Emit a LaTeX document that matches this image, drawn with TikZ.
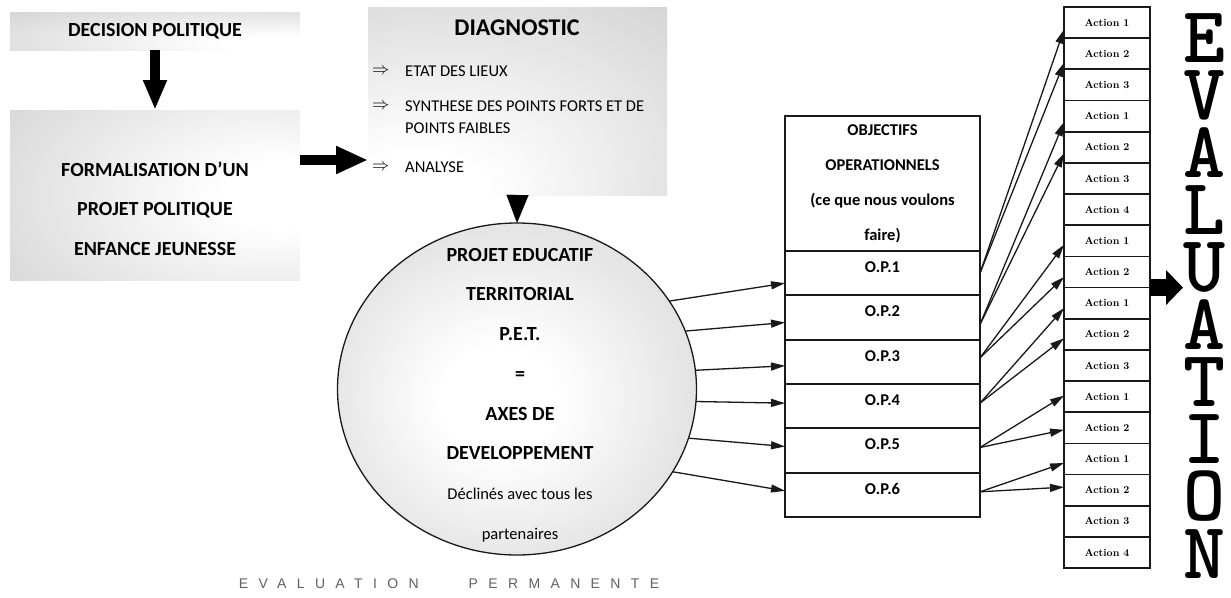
\documentclass[tikz,border=0pt]{standalone}
\usepackage{fontspec}
\newfontfamily\calfont{Carlito}
\newfontfamily\arialfont{Liberation Sans}
\usetikzlibrary{arrows.meta,shapes.geometric}
\colorlet{boxgray}{black!30}
\colorlet{circgray}{black!25}
\colorlet{inkc}{black!90}
\pgfdeclareradialshading{decshade}{\pgfpoint{25bp}{-20bp}}{color(0bp)=(white);color(10bp)=(white);color(80bp)=(boxgray)}
\pgfdeclareradialshading{formshade}{\pgfpoint{25bp}{0bp}}{color(0bp)=(white);color(10bp)=(white);color(78bp)=(boxgray)}
\pgfdeclareradialshading{diagshade}{\pgfpoint{-20bp}{-30bp}}{color(0bp)=(white);color(12bp)=(white);color(80bp)=(boxgray)}
\pgfdeclareradialshading{circshade}{\pgfpoint{-3bp}{-2bp}}{color(0bp)=(white);color(8bp)=(white);color(50bp)=(circgray)}
\tikzset{
  headfont/.style={font=\calfont\bfseries\fontsize{20}{39.5}\selectfont},
  itemfont/.style={font=\calfont\fontsize{16.5}{22}\selectfont},
  arrfont/.style={font=\fontsize{17}{17}\selectfont},
  shadebox/.style={inner sep=0pt, outer sep=0pt},
  bigdown/.style={line width=10pt, draw=black, -{Triangle[length=30pt,width=22pt]}},
  bigright/.style={line width=10pt, draw=black, -{Triangle[length=32pt,width=26pt]}},
  bigeval/.style={line width=17pt, draw=black, -{Triangle[length=17pt,width=34pt]}},
  tri/.style={line width=0.1pt, draw=black, -{Triangle[length=28pt,width=22pt]}},
  thinarrow/.style={line width=1.3pt, draw=inkc, -{Triangle[length=14pt,width=8pt]}},
  opbox/.style={draw=inkc, line width=1.8pt, minimum width=195pt, inner sep=0pt, outer sep=0pt,
    font=\calfont\bfseries\fontsize{16.5}{35}\selectfont, align=center},
  oprow/.style={opbox, minimum height=44.33pt, text depth=12pt},
  actbox/.style={draw=inkc, line width=1.7pt, minimum width=86pt, minimum height=31.17pt, inner sep=0pt, outer sep=0pt,
    font=\rmfamily\bfseries\fontsize{10.5}{12}\selectfont}
}
\begin{document}
\begin{tikzpicture}[x=1pt,y=-1pt]
\useasboundingbox[fill=white] (0,0) rectangle (1231,597);

% left boxes
\node[shadebox, shading=decshade, minimum width=290pt, minimum height=38pt, headfont] (dec) at (155,31) {DECISION POLITIQUE};
\node[shadebox, shading=formshade, minimum width=290pt, minimum height=170pt] (form) at (155,195) {};
\node[headfont, align=center, inner sep=0pt] (formtxt) at (155,208.5) {FORMALISATION D’UN\\PROJET POLITIQUE\\ENFANCE JEUNESSE};

% diagnostic
\node[shadebox, shading=diagshade, minimum width=299pt, minimum height=188pt] (diag) at (517.5,101) {};
\node[font=\calfont\bfseries\fontsize{24}{28}\selectfont, inner sep=0pt] (diagt) at (517,27.5) {DIAGNOSTIC};
\node[arrfont, anchor=west, inner sep=0pt] (ar1) at (372,71) {$\Rightarrow$};
\node[arrfont, anchor=west, inner sep=0pt] (ar2) at (372,106) {$\Rightarrow$};
\node[arrfont, anchor=west, inner sep=0pt] (ar3) at (372,167) {$\Rightarrow$};
\node[itemfont, anchor=west, inner sep=0pt] (it1) at (405,71) {ETAT DES LIEUX};
\node[itemfont, anchor=north west, align=left, inner sep=0pt] (it2) at (405,101) {SYNTHESE DES POINTS FORTS ET DE\\POINTS FAIBLES};
\node[itemfont, anchor=west, inner sep=0pt] (it3) at (405,167) {ANALYSE};

% big arrows
\draw[bigdown] (dec.south) -- (form.north);
\draw[bigright] (form.east |- 0,160) -- (diag.west |- 0,160);

% circle
\node[ellipse, draw=inkc, line width=1.3pt, shading=circshade, minimum width=359pt, minimum height=332pt, inner sep=0pt, outer sep=0pt] (pet) at (517,389) {};
\node[align=center, inner sep=0pt, font=\calfont\bfseries\fontsize{20}{39.7}\selectfont] (pettxt) at (520,395)
 {PROJET EDUCATIF\\TERRITORIAL\\P.E.T.\\=\\AXES DE\\DEVELOPPEMENT\\
  {\mdseries\fontsize{16.5}{39.7}\selectfont Déclinés avec tous les}\\
  {\mdseries\fontsize{16.5}{39.7}\selectfont partenaires}};
\draw[tri] (diag.south) -- (pet.north);

% OP table
\node[opbox, minimum height=135pt] (ophead) at (882.5,183.5) {OBJECTIFS\\OPERATIONNELS\\(ce que nous voulons\\faire)};
\foreach \i in {1,...,6}{
  \node[oprow] (op\i) at (882.5,{251+44.33*(\i-0.5)}) {O.P.\i};
}

% arrows circle -> OP
\draw[thinarrow] (pet.30) -- ([yshift=-10pt]op1.west);
\draw[thinarrow] (pet.19) -- ([yshift=-5pt]op2.west);
\draw[thinarrow] (pet.6) -- ([yshift=-4pt]op3.west);
\draw[thinarrow] (pet.-4) -- ([yshift=3pt]op4.west);
\draw[thinarrow] (pet.-16) -- ([yshift=4pt]op5.west);
\draw[thinarrow] (pet.-28) -- ([yshift=4pt]op6.west);

% actions
\foreach \i/\t in {1/1,2/2,3/3,4/1,5/2,6/3,7/4,8/1,9/2,10/1,11/2,12/3,13/1,14/2,15/1,16/2,17/3,18/4}{
  \node[actbox] (a\i) at (1107,{7+31.17*(\i-0.5)}) {Action \oldstylenums{\t}};
}

% arrows OP -> actions
\draw[thinarrow] (op1.east) -- ([yshift=-7pt]a1.west);
\draw[thinarrow] (op1.east) -- ([yshift=-9pt]a2.west);
\draw[thinarrow] ([yshift=-7pt]op2.east) -- ([yshift=-6pt]a4.west);
\draw[thinarrow] ([yshift=-7pt]op2.east) -- ([yshift=-6pt]a5.west);
\draw[thinarrow] ([yshift=4pt]op3.east) -- ([yshift=-4pt]a8.west);
\draw[thinarrow] ([yshift=4pt]op3.east) -- ([yshift=-5pt]a9.west);
\draw[thinarrow] ([yshift=3pt]op4.east) -- ([yshift=-5pt]a10.west);
\draw[thinarrow] ([yshift=3pt]op4.east) -- ([yshift=-4pt]a11.west);
\draw[thinarrow] ([yshift=3pt]op5.east) -- ([yshift=1pt]a13.west);
\draw[thinarrow] ([yshift=3pt]op5.east) -- ([yshift=-2pt]a14.west);
\draw[thinarrow] ([yshift=3pt]op6.east) -- ([yshift=-4pt]a15.west);
\draw[thinarrow] ([yshift=3pt]op6.east) -- ([yshift=3pt]a16.west);

% EVALUATION vertical
\node[align=center, inner sep=0pt, outer sep=0pt, font=\ttfamily\bfseries\fontsize{80}{57.3}\selectfont] (evalv) at (1204,296)
  {E\\V\\A\\L\\U\\A\\T\\I\\O\\N};
\draw[bigeval] (a10.north east) -- (evalv.west |- a10.north east);

% bottom caption
\node[inner sep=0pt, text=black!62, font=\arialfont\fontsize{14}{16}\selectfont] (evalp) at (449,584)
  {\addfontfeature{LetterSpace=74}EVALUATION\hspace{50pt}PERMANENTE};
\end{tikzpicture}
\end{document}
